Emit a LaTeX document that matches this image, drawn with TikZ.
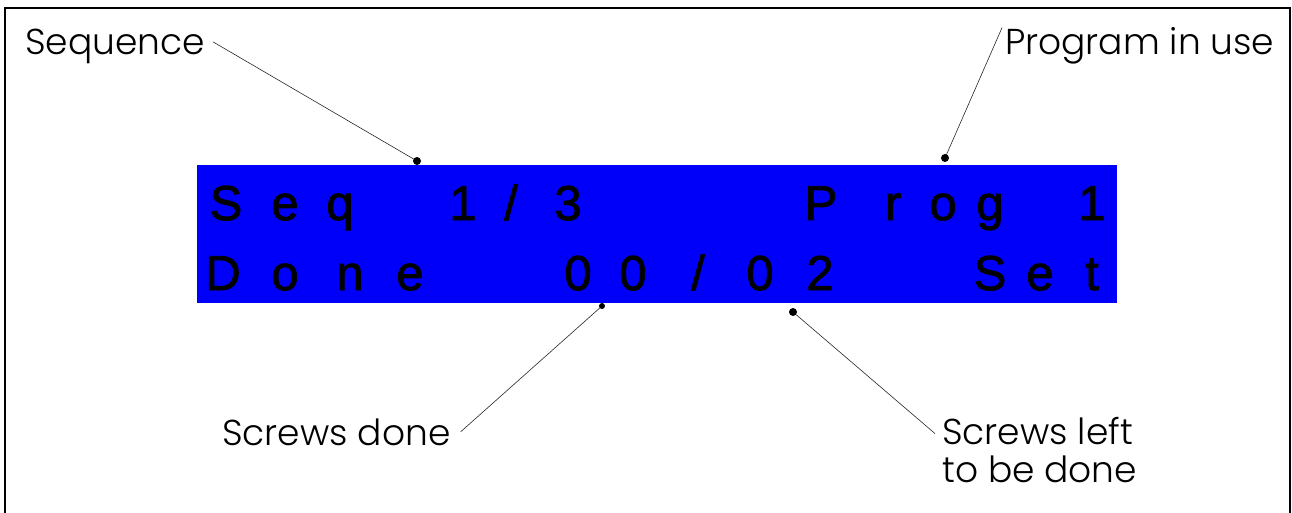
\documentclass[tikz,border=0pt]{standalone}
\usepackage{fontspec}
\setmainfont{Liberation Sans}
\newfontfamily\lcdfont{Liberation Sans}[FakeBold=1.8]
\newfontfamily\calloutfont{Poppins Light}

\definecolor{lcdblue}{RGB}{0,0,250}

\begin{document}
\begin{tikzpicture}[x=1pt,y=-1pt,
    lcdchar/.style={anchor=base,inner sep=0pt,font=\lcdfont\fontsize{49}{50}\selectfont},
    callout/.style={anchor=base west,inner sep=0pt,align=left,font=\calloutfont\fontsize{36}{38}\selectfont},
    leader/.style={line width=0.6pt,black!85}]
    \useasboundingbox (0,0) rectangle (1292,513);
    \draw[line width=1.5pt] (5,520) -- (5,8) -- (1290,8) -- (1290,520);
    \node[fill=lcdblue,minimum width=920pt,minimum height=138pt,inner sep=0pt,anchor=north west] (lcd) at (197,165) {};
    \foreach \ch/\x [count=\i] in {S/226,e/285,q/340,1/463,{/}/511,3/568,P/821,r/893,o/943,g/990,1/1092}
        \node[lcdchar] (top\i) at (\x,220) {\ch};
    \foreach \ch/\x [count=\i] in {D/223,o/285,n/350,e/410,0/578,0/633,{/}/698,0/760,2/820,S/990,e/1040,t/1092}
        \node[lcdchar] (bot\i) at (\x,290) {\ch};
    \node[callout] (seq) at (25,55) {Sequence};
    \node[callout] (prog) at (1005,55) {Program in use};
    \node[callout] (done) at (222,445) {Screws done};
    \node[callout] (left) at (942,482) {Screws left\\to be done};
    \coordinate (seqdot) at (417,161);
    \coordinate (progdot) at (945,158);
    \coordinate (donedot) at (602,306);
    \coordinate (leftdot) at (793,312);
    \draw[leader] ([xshift=8pt,yshift=5pt]seq.east) -- (seqdot);
    \draw[leader] ([xshift=-3pt]prog.north west) -- (progdot);
    \draw[leader] ([xshift=10pt]done.east) -- (donedot);
    \draw[leader] ([xshift=-7pt,yshift=-17pt]left.north west) -- (leftdot);
    \fill (seqdot) circle (4pt);
    \fill (progdot) circle (4pt);
    \fill (donedot) circle (3pt);
    \fill (leftdot) circle (4pt);
\end{tikzpicture}
\end{document}
